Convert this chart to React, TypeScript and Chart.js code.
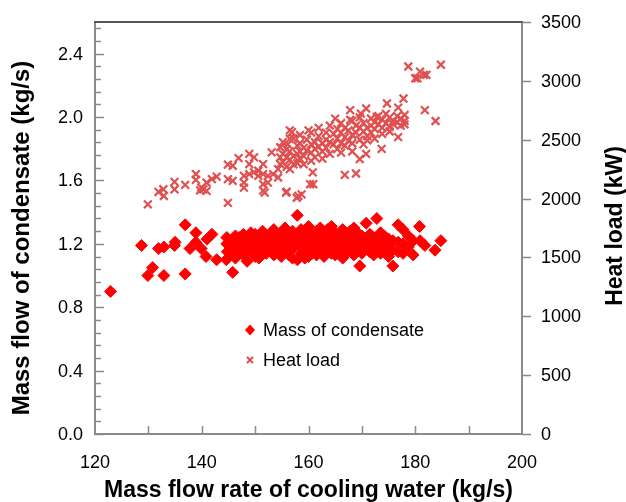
import React, { useEffect, useRef } from "react";
import { Chart, registerables } from "chart.js";

Chart.register(...registerables);

const xTicks = [120, 140, 160, 180, 200];
const yTicks = [0, 0.4, 0.8, 1.2, 1.6, 2.0, 2.4];
const y2Ticks = [0, 500, 1000, 1500, 2000, 2500, 3000, 3500];

const xTitle = "Mass flow rate of cooling water (kg/s)";
const yTitle = "Mass flow of condensate (kg/s)";
const y2Title = "Heat load (kW)";
const seriesNames = ["Mass of condensate", "Heat load"];

// Mass of condensate: [mass flow of cooling water, condensate]
const condensate: number[][] = [
  [122.9, 0.9], [128.7, 1.19], [129.9, 1.0], [130.8, 1.05], [131.9, 1.17], [132.9, 1.18], [132.9, 1.0],
  [134.9, 1.19], [135.0, 1.21], [136.9, 1.32], [136.9, 1.01], [137.8, 1.17], [138.9, 1.27], [138.9, 1.21],
  [139.9, 1.17], [140.8, 1.12], [141.9, 1.26], [141.0, 1.23], [142.8, 1.1], [145.8, 1.02], [144.7, 1.24],
  [144.7, 1.2], [144.8, 1.15], [144.6, 1.1],
  [145.5, 1.22], [145.5, 1.17], [145.5, 1.13], [146.3, 1.25], [146.3, 1.19], [146.3, 1.14], [146.3, 1.11],
  [147.0, 1.21], [147.0, 1.16], [147.0, 1.24], [147.8, 1.26], [147.8, 1.19], [147.8, 1.13],
  [148.5, 1.22], [148.5, 1.15], [148.5, 1.09], [149.2, 1.27], [149.2, 1.2], [149.2, 1.17],
  [150.0, 1.24], [150.0, 1.18], [150.0, 1.12], [150.0, 1.26], [150.7, 1.21], [150.7, 1.15], [150.7, 1.11],
  [151.4, 1.28], [151.4, 1.23], [151.4, 1.18], [152.1, 1.25], [152.1, 1.2], [152.1, 1.14],
  [152.8, 1.22], [152.8, 1.17], [152.8, 1.26], [153.5, 1.29], [153.5, 1.19], [153.5, 1.13],
  [154.2, 1.24], [154.2, 1.21], [154.2, 1.16], [154.9, 1.27], [154.9, 1.18], [154.9, 1.12],
  [155.6, 1.3], [155.6, 1.22], [155.6, 1.15], [155.6, 1.25], [156.3, 1.26], [156.3, 1.19], [156.3, 1.13],
  [157.0, 1.28], [157.0, 1.23], [157.0, 1.17], [157.0, 1.11], [157.9, 1.38], [157.9, 1.21], [157.9, 1.1], [157.9, 1.25],
  [158.6, 1.29], [158.6, 1.18], [158.6, 1.14], [159.3, 1.24], [159.3, 1.2], [159.3, 1.11], [159.3, 1.27],
  [160.0, 1.31], [160.0, 1.22], [160.0, 1.16], [160.0, 1.12], [160.7, 1.26], [160.7, 1.19], [160.7, 1.14],
  [161.5, 1.28], [161.5, 1.23], [161.5, 1.13], [161.5, 1.18], [162.2, 1.3], [162.2, 1.21], [162.2, 1.15],
  [162.9, 1.25], [162.9, 1.19], [162.9, 1.12], [162.9, 1.27], [163.6, 1.29], [163.6, 1.22], [163.6, 1.17],
  [164.3, 1.24], [164.3, 1.2], [164.3, 1.14], [164.3, 1.31], [165.0, 1.27], [165.0, 1.18], [165.0, 1.13],
  [165.7, 1.26], [165.7, 1.21], [165.7, 1.16], [166.4, 1.29], [166.4, 1.23], [166.4, 1.15], [166.4, 1.11],
  [167.1, 1.25], [167.1, 1.19], [167.1, 1.14], [167.8, 1.28], [167.8, 1.22], [167.8, 1.17],
  [168.5, 1.24], [168.5, 1.2], [168.5, 1.13], [168.5, 1.3], [169.2, 1.27], [169.2, 1.21], [169.2, 1.16],
  [169.6, 1.06], [170.0, 1.25], [170.0, 1.18], [170.0, 1.14], [170.8, 1.33], [170.8, 1.23], [170.8, 1.19],
  [171.5, 1.26], [171.5, 1.2], [171.5, 1.15], [172.2, 1.24], [172.2, 1.17], [172.2, 1.13],
  [172.8, 1.36], [172.8, 1.22], [172.8, 1.16], [173.5, 1.27], [173.5, 1.21], [173.5, 1.14],
  [174.2, 1.25], [174.2, 1.19], [174.2, 1.15], [175.0, 1.23], [175.0, 1.18], [175.0, 1.12],
  [175.8, 1.22], [175.8, 1.16], [175.8, 1.06], [176.8, 1.32], [176.8, 1.21], [176.8, 1.15],
  [177.7, 1.29], [177.7, 1.2], [177.7, 1.14], [178.7, 1.25], [178.7, 1.18], [179.6, 1.13], [179.6, 1.22],
  [180.8, 1.31], [180.9, 1.22], [181.8, 1.19], [183.7, 1.16], [184.8, 1.22],
];

// Heat load: [mass flow of cooling water, kW]
const heatLoad: number[][] = [
  [129.9, 1950], [131.9, 2056], [132.8, 2079], [132.9, 2022], [134.9, 2142], [134.9, 2079], [136.9, 2116],
  [138.9, 2207], [138.9, 2159], [139.9, 2093], [140.3, 2079], [139.7, 2070], [140.9, 2136], [140.9, 2065],
  [141.9, 2165], [142.8, 2187], [144.9, 2288], [144.9, 2165], [144.9, 1964], [145.8, 2279], [145.8, 2150],
  [146.9, 2344], [147.9, 2193], [147.9, 2136], [147.9, 2093], [148.9, 2379], [148.9, 2293], [148.9, 2207],
  [149.8, 2350], [149.8, 2222], [150.6, 2236], [150.6, 2193], [151.5, 2293], [151.5, 2207], [151.5, 2122],
  [151.5, 2067], [151.8, 2050], [152.4, 2136], [152.4, 2193], [153.1, 2393], [153.4, 2207], [154.3, 2250],
  [154.3, 2179], [154.7, 2436], [154.7, 2293], [154.7, 2350], [155.8, 2050], [156.5, 2579], [156.5, 2507],
  [156.5, 2400], [156.5, 2330], [156.5, 2250], [158.1, 2022], [158.7, 2036], [157.9, 2450], [157.9, 2380],
  [157.9, 2300], [155.9, 2059], [157.8, 2007], [160.3, 2122], [160.9, 2122], [160.8, 2222], [156.9, 2565],
  [160.0, 2579], [165.0, 2679], [167.8, 2668], [178.7, 3122], [180.9, 3079], [180.0, 3022], [181.6, 3051],
  [182.1, 3051], [180.4, 3022], [184.8, 3137], [181.8, 2751], [183.8, 2659], [177.8, 2850], [176.8, 2773],
  [174.7, 2808], [170.8, 2765], [167.8, 2751], [169.8, 2722], [172.8, 2694], [176.8, 2522], [173.7, 2422],
  [171.0, 2494], [170.8, 2379], [169.6, 2336], [166.8, 2202], [168.9, 2213],
  [155.2, 2480], [155.2, 2380], [155.2, 2310], [155.9, 2420], [155.9, 2350], [155.9, 2270], [156.1, 2460],
  [157.2, 2510], [157.2, 2360], [157.2, 2290], [158.4, 2470], [158.4, 2400], [158.4, 2340], [158.4, 2540],
  [159.1, 2430], [159.1, 2360], [159.1, 2290], [159.7, 2500], [159.7, 2410],
  [160.5, 2560], [160.5, 2460], [160.5, 2390], [160.5, 2320], [161.2, 2480], [161.2, 2420], [161.2, 2350],
  [161.9, 2600], [161.9, 2530], [161.9, 2440], [162.6, 2470], [162.6, 2400], [162.6, 2340],
  [163.3, 2560], [163.3, 2500], [163.3, 2430], [164.0, 2620], [164.0, 2480], [164.0, 2380],
  [164.7, 2550], [164.7, 2460], [165.4, 2590], [165.4, 2510], [165.4, 2420],
  [166.1, 2640], [166.1, 2560], [166.1, 2470], [166.1, 2390], [166.8, 2600], [166.8, 2520], [166.8, 2450],
  [167.5, 2580], [167.5, 2490], [168.2, 2660], [168.2, 2540], [168.2, 2470], [168.2, 2400],
  [168.9, 2620], [168.9, 2560], [169.6, 2690], [169.6, 2600], [169.6, 2500],
  [170.3, 2640], [170.3, 2570], [170.3, 2460], [171.0, 2600], [171.0, 2530],
  [171.7, 2680], [171.7, 2620], [171.7, 2560], [172.4, 2650], [172.4, 2590], [172.4, 2510],
  [173.1, 2700], [173.1, 2630], [173.8, 2670], [173.8, 2600], [173.8, 2550], [174.5, 2720], [174.5, 2640],
  [175.2, 2690], [175.2, 2610], [175.2, 2570], [175.9, 2660], [175.9, 2630], [176.6, 2700], [176.6, 2650],
  [177.3, 2680], [177.3, 2620], [178.0, 2710], [178.0, 2660], [178.0, 2630],
];

const RED = "#ff0000";
const CROSS = "#e05050";
const AXIS = "#8a8a8a";
const FONT = "'Liberation Sans', Arial, sans-serif";

const axesPlugin = {
  id: "customAxes",
  afterDraw(chart: any) {
    const ctx = chart.ctx;
    const xs = chart.scales.x;
    const ys = chart.scales.y;
    const y2 = chart.scales.y2;
    const { left, right, top, bottom } = chart.chartArea;
    ctx.save();
    ctx.lineCap = "butt";
    ctx.strokeStyle = AXIS;
    ctx.lineWidth = 2;
    ctx.beginPath();
    ctx.moveTo(left, top);
    ctx.lineTo(left, bottom);
    ctx.lineTo(right, bottom);
    ctx.lineTo(right, top);
    ctx.stroke();
    ctx.strokeStyle = "#555555";
    ctx.beginPath();
    ctx.moveTo(left - 1, top);
    ctx.lineTo(right + 1, top);
    ctx.stroke();

    ctx.strokeStyle = AXIS;
    ctx.lineWidth = 1.5;
    for (let i = 0; i <= 32; i++) {
      const v = i * 0.08;
      const py = Math.round(ys.getPixelForValue(v)) + 0.5;
      const major = i % 5 === 0;
      ctx.beginPath();
      ctx.moveTo(left, py);
      ctx.lineTo(left + (major ? 9 : 6), py);
      ctx.stroke();
    }
    for (let v = 130; v < 200; v += 10) {
      const px = Math.round(xs.getPixelForValue(v)) + 0.5;
      ctx.beginPath();
      ctx.moveTo(px, bottom);
      ctx.lineTo(px, bottom - 8);
      ctx.stroke();
    }
    y2Ticks.forEach((v) => {
      const py = Math.round(y2.getPixelForValue(v)) + 0.5;
      ctx.beginPath();
      ctx.moveTo(right, py);
      ctx.lineTo(right + 9, py);
      ctx.stroke();
    });

    ctx.fillStyle = "#000";
    ctx.font = `18px ${FONT}`;
    ctx.textBaseline = "middle";
    ctx.textAlign = "right";
    yTicks.forEach((v) => {
      ctx.fillText(v.toFixed(1), left - 12, ys.getPixelForValue(v) + 1);
    });
    ctx.textAlign = "left";
    y2Ticks.forEach((v) => {
      ctx.fillText(String(v), right + 19, y2.getPixelForValue(v) + 1);
    });
    ctx.textAlign = "center";
    xTicks.forEach((v) => {
      ctx.fillText(String(v), xs.getPixelForValue(v), bottom + 29);
    });

    ctx.font = `bold 23px ${FONT}`;
    ctx.fillText(xTitle, (left + right) / 2, bottom + 57);
    ctx.save();
    ctx.font = `bold 24px ${FONT}`;
    ctx.translate(22, 238);
    ctx.rotate(-Math.PI / 2);
    ctx.fillText(yTitle, 0, 0);
    ctx.restore();
    ctx.save();
    ctx.translate(616, 226);
    ctx.rotate(-Math.PI / 2);
    ctx.fillText(y2Title, 0, 0);
    ctx.restore();

    const lx = 250;
    const ly1 = 330;
    const ly2 = 360;
    ctx.fillStyle = RED;
    ctx.beginPath();
    ctx.moveTo(lx, ly1 - 5.5);
    ctx.lineTo(lx + 5, ly1);
    ctx.lineTo(lx, ly1 + 5.5);
    ctx.lineTo(lx - 5, ly1);
    ctx.closePath();
    ctx.fill();
    ctx.strokeStyle = CROSS;
    ctx.lineWidth = 2;
    ctx.beginPath();
    ctx.moveTo(lx - 3, ly2 - 3);
    ctx.lineTo(lx + 3, ly2 + 3);
    ctx.moveTo(lx + 3, ly2 - 3);
    ctx.lineTo(lx - 3, ly2 + 3);
    ctx.stroke();
    ctx.fillStyle = "#000";
    ctx.font = `18px ${FONT}`;
    ctx.textAlign = "left";
    ctx.fillText(seriesNames[0], 263, ly1 + 1);
    ctx.fillText(seriesNames[1], 263, ly2 + 1);
    ctx.restore();
  },
};

export default function App() {
  const ref = useRef<HTMLCanvasElement | null>(null);
  useEffect(() => {
    if (!ref.current) return;
    const hiddenScale = {
      ticks: { display: false },
      grid: { display: false },
      border: { display: false },
      title: { display: false },
    };
    const chart = new Chart(ref.current, {
      type: "scatter",
      data: {
        datasets: [
          {
            label: seriesNames[0],
            data: condensate.map(([x, y]) => ({ x, y })),
            yAxisID: "y",
            pointStyle: "rectRot",
            pointRadius: 6,
            backgroundColor: RED,
            borderColor: RED,
            borderWidth: 1,
          },
          {
            label: seriesNames[1],
            data: heatLoad.map(([x, y]) => ({ x, y })),
            yAxisID: "y2",
            pointStyle: "crossRot",
            pointRadius: 5.5,
            backgroundColor: CROSS,
            borderColor: CROSS,
            borderWidth: 2.2,
          },
        ],
      },
      options: {
        responsive: false,
        animation: false,
        devicePixelRatio: 1,
        layout: { padding: { top: 22, left: 0, right: 0, bottom: 0 } },
        plugins: { legend: { display: false }, tooltip: { enabled: false } },
        scales: {
          x: {
            type: "linear",
            min: 120,
            max: 200,
            ...hiddenScale,
            afterFit: (s: any) => {
              s.height = 68;
            },
          },
          y: {
            type: "linear",
            position: "left",
            min: 0,
            max: 2.6,
            ...hiddenScale,
            afterFit: (s: any) => {
              s.width = 95;
            },
          },
          y2: {
            type: "linear",
            position: "right",
            min: 0,
            max: 3500,
            ...hiddenScale,
            afterFit: (s: any) => {
              s.width = 104;
            },
          },
        },
      } as any,
      plugins: [axesPlugin],
    });
    return () => chart.destroy();
  }, []);
  return (
    <div style={{ position: "fixed", left: 0, top: 0, width: 626, height: 502, background: "#fff" }}>
      <canvas ref={ref} width={626} height={502} style={{ width: 626, height: 502 }} />
    </div>
  );
}
